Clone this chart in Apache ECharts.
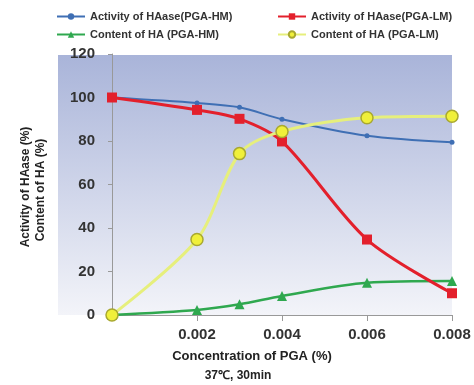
<!DOCTYPE html>
<html><head><meta charset="utf-8">
<script src="https://cdn.jsdelivr.net/npm/echarts@6/dist/echarts.min.js"></script>
<style>html,body{margin:0;padding:0;background:#fff}#c{width:474px;height:385px}</style>
</head><body><div id="c"></div>
<script>
const concentrations = [0, 0.002, 0.003, 0.004, 0.006, 0.008];
const activityHM = [100, 97.5, 95.5, 90, 82.4, 79.4];
const activityLM = [100, 94.3, 90.2, 79.8, 34.7, 10];
const contentHM = [0, 2.3, 4.9, 8.7, 14.8, 15.6];
const contentLM = [0, 34.7, 74.2, 84.4, 90.7, 91.4];
const seriesNames = ['Activity of HAase(PGA-HM)', 'Activity of HAase(PGA-LM)', 'Content of HA (PGA-HM)', 'Content of HA (PGA-LM)'];
const xTicks = [0.002, 0.004, 0.006, 0.008];
const yTitle = ['Activity of HAase (%)', 'Content of HA (%)'];
const xTitle = ['Concentration of PGA (%)', '37\u2103, 30min'];

const pair = (ys) => concentrations.map((x, i) => [x, ys[i]]);
const F = '"Liberation Sans", Arial, sans-serif';
const chart = echarts.init(document.getElementById('c'));
chart.setOption({
  animation: false,
  grid: { left: 112, right: 22, top: 54, bottom: 70 },
  graphic: [
    { type: 'rect', z: -10, shape: { x: 58, y: 55, width: 394, height: 260 },
      style: { fill: new echarts.graphic.LinearGradient(0, 0, 0, 1, [
        { offset: 0, color: '#a9b4d9' }, { offset: 1, color: '#f3f4f9' }]) } },
    { type: 'text', x: 252, y: 356, style: { text: xTitle[0], font: 'bold 13px ' + F, fill: '#222', align: 'center', verticalAlign: 'middle' } },
    { type: 'text', x: 238, y: 376, style: { text: xTitle[1], font: 'bold 12px ' + F, fill: '#222', align: 'center', verticalAlign: 'middle' } },
    { type: 'text', x: 26, y: 187, rotation: Math.PI / 2, style: { text: yTitle[0], font: 'bold 12px ' + F, fill: '#222', align: 'center', verticalAlign: 'middle' } },
    { type: 'text', x: 41, y: 190, rotation: Math.PI / 2, style: { text: yTitle[1], font: 'bold 12px ' + F, fill: '#222', align: 'center', verticalAlign: 'middle' } }
  ],
  legend: [
    { left: 51, top: 6, orient: 'vertical', itemGap: 7, itemWidth: 28, itemHeight: 8,
      data: [seriesNames[0], seriesNames[2]], textStyle: { fontFamily: F, fontWeight: 'bold', fontSize: 11, color: '#333' } },
    { left: 272, top: 6, orient: 'vertical', itemGap: 7, itemWidth: 28, itemHeight: 8,
      data: [seriesNames[1], seriesNames[3]], textStyle: { fontFamily: F, fontWeight: 'bold', fontSize: 11, color: '#333' } }
  ],
  xAxis: {
    type: 'value', min: 0, max: 0.008, interval: 0.002,
    axisLine: { show: true, lineStyle: { color: '#999' } },
    axisTick: { show: true, length: 6, lineStyle: { color: '#999' } },
    splitLine: { show: false },
    axisLabel: { margin: 12, fontFamily: F, fontWeight: 'bold', fontSize: 15, color: '#333',
      formatter: v => xTicks.some(t => Math.abs(t - v) < 1e-9) ? v.toFixed(3) : '' }
  },
  yAxis: {
    type: 'value', min: 0, max: 120, interval: 20,
    axisLine: { show: true, lineStyle: { color: '#999' } },
    axisTick: { show: true, length: 4, lineStyle: { color: '#999' } },
    splitLine: { show: false },
    axisLabel: { margin: 17, fontFamily: F, fontWeight: 'bold', fontSize: 15, color: '#333' }
  },
  series: [
    { name: seriesNames[0], type: 'line', smooth: 0.3, data: pair(activityHM), symbol: 'circle', symbolSize: 5,
      lineStyle: { color: '#3f6fb4', width: 2 }, itemStyle: { color: '#3f6fb4' }, z: 3 },
    { name: seriesNames[1], type: 'line', smooth: 0.3, data: pair(activityLM), symbol: 'rect', symbolSize: 10,
      lineStyle: { color: '#e3202c', width: 3 }, itemStyle: { color: '#e3202c' }, z: 4 },
    { name: seriesNames[2], type: 'line', smooth: 0.3, data: pair(contentHM), symbol: 'triangle', symbolSize: 10,
      lineStyle: { color: '#2fa84f', width: 2.5 }, itemStyle: { color: '#2fa84f' }, z: 3 },
    { name: seriesNames[3], type: 'line', smooth: 0.3, data: pair(contentLM), symbol: 'circle', symbolSize: 12,
      lineStyle: { color: '#e6ef7c', width: 3 }, itemStyle: { color: '#f0f03a', borderColor: '#a8a830', borderWidth: 1.5 }, z: 5 }
  ]
});
</script></body></html>
